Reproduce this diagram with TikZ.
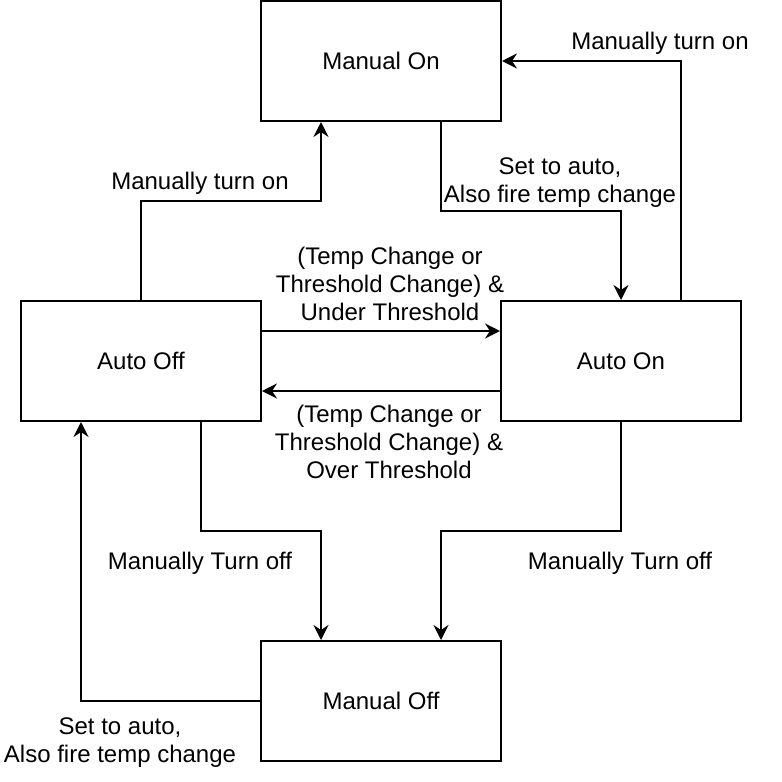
\documentclass[tikz,border=0pt]{standalone}
\usepackage{fontspec}
\setmainfont{Liberation Sans}
\usetikzlibrary{arrows.meta}
\begin{document}
\begin{tikzpicture}[x=0.5pt,y=-0.5pt,
  state/.style={draw,line width=1pt,minimum width=120pt,minimum height=60pt,inner sep=0pt,font=\fontsize{12}{14}\selectfont},
  conn/.style={line width=1pt,-{Stealth[length=7.5pt,width=7.5pt,inset=2.5pt]}},
  lbl/.style={align=center,inner sep=0pt,font=\fontsize{12}{14}\selectfont}]
\useasboundingbox (0,0) rectangle (782,782);
\node[state] (mon) at (381,61) {\raisebox{-0.5pt}{Manual On}};
\node[state] (aoff) at (141,361) {\raisebox{-0.5pt}{Auto Off}};
\node[state] (aon) at (621,361) {\raisebox{-0.5pt}{Auto On}};
\node[state] (moff) at (381,701) {\raisebox{-0.5pt}{Manual Off}};
% Auto Off -> Manual On
\draw[conn] (aoff.north) -- (141,201) -- (321,201) -- (mon.south -| 321,0);
\node[lbl] (l1) at (200,183) {Manually turn on};
% Manual On -> Auto On
\draw[conn] (mon.south -| 441,0) -- (441,211) -- (621,211) -- (aon.north);
\node[lbl] (l2) at (560,183) {Set to auto,\\Also fire temp change};
% Auto On -> Manual On
\draw[conn] (aon.north -| 681,0) -- (681,61) -- (mon.east);
\node[lbl] (l3) at (660,43) {Manually turn on};
% Auto Off -> Auto On
\draw[conn] (aoff.east |- 0,331) -- (aon.west |- 0,331);
\node[lbl] (l4) at (390,284) {(Temp Change or\\Threshold Change) \&\\Under Threshold};
% Auto On -> Auto Off
\draw[conn] (aon.west |- 0,391) -- (aoff.east |- 0,391);
\node[lbl] (l5) at (389,442) {(Temp Change or\\Threshold Change) \&\\Over Threshold};
% Auto Off -> Manual Off
\draw[conn] (aoff.south -| 201,0) -- (201,531) -- (321,531) -- (moff.north -| 321,0);
\node[lbl] (l6) at (200,563) {Manually Turn off};
% Auto On -> Manual Off
\draw[conn] (aon.south) -- (621,531) -- (441,531) -- (moff.north -| 441,0);
\node[lbl] (l7) at (620,563) {Manually Turn off};
% Manual Off -> Auto Off
\draw[conn] (moff.west) -- (81,701) -- (aoff.south -| 81,0);
\node[lbl] (l8) at (120,743) {Set to auto,\\Also fire temp change};
\end{tikzpicture}
\end{document}
